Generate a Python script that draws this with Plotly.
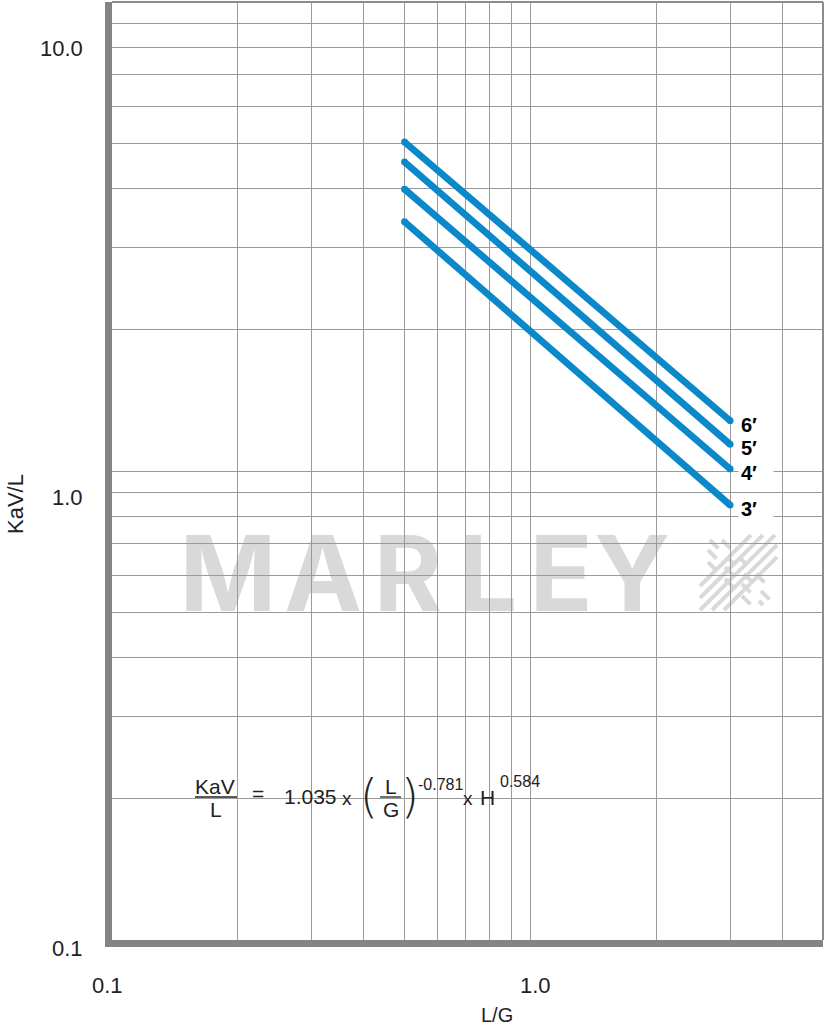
import plotly.graph_objects as go
import math

# ---------------- data ----------------
lg_values = [0.5, 3.0]                      # L/G at both ends of each line
heights = ["6′", "5′", "4′", "3′"]          # fill heights
kavl_6 = [5.03, 1.28]
kavl_5 = [4.56, 1.14]
kavl_4 = [3.99, 1.01]
kavl_3 = [3.40, 0.846]
series = [kavl_6, kavl_5, kavl_4, kavl_3]

x_grid = [0.2, 0.3, 0.4, 0.5, 0.6, 0.7, 0.8, 0.9, 1, 2, 3, 4]
y_grid = [0.2, 0.3, 0.4, 0.5, 0.6, 0.7, 0.8, 0.9, 1, 2, 3, 4, 5, 6, 7, 8, 9]
x_tick_vals = [0.1, 1.0]
x_tick_text = ["0.1", "1.0"]
y_tick_vals = [0.1, 1.0, 10.0]
y_tick_text = ["0.1", "1.0", "10.0"]
y_tick_shift = [-8, -26, -46]               # label offsets as printed in the original
x_range = [0.1, 5.0]
y_range = [0.1, 10.0]

# ---------------- layout geometry ----------------
W, H = 825, 1029
ML, MR, MT, MB = 112, 2, 2, 89
PW, PH = W - ML - MR, H - MT - MB


def P(px, py):
    """page pixel -> paper coords"""
    return (px - ML) / PW, (H - MB - py) / PH


BLUE = "#0a88ca"
GRID = "#9a9a9a"
AXIS = "#838486"
TXT = "#222222"
WM = "#d9d9d9"
FONT = "Liberation Sans"

fig = go.Figure()
for h, ys in zip(heights, series):
    fig.add_trace(go.Scatter(
        x=lg_values, y=ys, mode="lines+markers",
        line=dict(color=BLUE, width=6.8),
        marker=dict(color=BLUE, size=6.8, line=dict(width=0)),
        showlegend=False, hoverinfo="skip", name=h))

annotations = []
# height labels at line ends
for h, ys in zip(heights, series):
    annotations.append(dict(
        x=math.log10(lg_values[-1]), y=math.log10(ys[-1]), xref="x", yref="y",
        text="<b>%s</b>" % h, showarrow=False, xanchor="left", yanchor="middle",
        xshift=8, yshift=-4, align="left", width=30, bgcolor="white",
        borderpad=2, font=dict(family=FONT, size=20, color="black")))

# tick labels
for v, t, s in zip(y_tick_vals, y_tick_text, y_tick_shift):
    annotations.append(dict(
        x=0, xref="paper", y=math.log10(v), yref="y", text=t, showarrow=False,
        xanchor="right", yanchor="middle", xshift=-27, yshift=s,
        font=dict(family=FONT, size=22, color=TXT)))
for v, t, s in zip(x_tick_vals, x_tick_text, [-5, 5]):
    annotations.append(dict(
        x=math.log10(v), xref="x", y=0, yref="paper", text=t, showarrow=False,
        xanchor="center", yanchor="middle", xshift=s, yshift=-45,
        font=dict(family=FONT, size=22, color=TXT)))

# axis titles
px_, py_ = P(497, 1015)
annotations.append(dict(x=px_, y=py_, xref="paper", yref="paper", text="L/G",
                        xanchor="center", yanchor="middle",
                        showarrow=False, font=dict(family=FONT, size=20, color=TXT)))
px_, py_ = P(15, 504)
annotations.append(dict(x=px_, y=py_, xref="paper", yref="paper", text="KaV/L",
                        xanchor="center", yanchor="middle",
                        textangle=-90, showarrow=False,
                        font=dict(family=FONT, size=22, color=TXT)))

# formula
def txt(s, px, py, size=21, family=FONT, weight=None):
    ax, ay = P(px, py)
    f = dict(family=family, size=size, color=TXT)
    if weight is not None:
        f["weight"] = weight
    annotations.append(dict(x=ax, y=ay, xref="paper", yref="paper", text=s,
                            showarrow=False, xanchor="center", yanchor="middle",
                            font=f))

txt("KaV", 215, 786)
txt("L", 216, 809)
txt("=", 258, 793)
txt("1.035", 310, 796)
txt("x", 347, 798, size=19)
txt("(", 369, 796, size=46, family="DejaVu Sans", weight=200)
txt("L", 391, 786)
txt("G", 391, 809)
txt(")", 410, 796, size=46, family="DejaVu Sans", weight=200)
txt("-0.781", 440, 784, size=16)
txt("x", 468, 798, size=19)
txt("H", 487, 797)
txt("0.584", 520, 781, size=16)

shapes = []
# formula background
x0, y0 = P(173, 823)
x1, y1 = P(567, 745)
shapes.append(dict(type="rect", xref="paper", yref="paper", x0=x0, y0=y0, x1=x1, y1=y1,
                   line=dict(width=0), fillcolor="rgba(255,255,255,0.8)", layer="between"))
for a, b in [(195, 237), (380, 401)]:
    xa, yb = P(a, 797)
    xb, _ = P(b, 797)
    shapes.append(dict(type="line", xref="paper", yref="paper", x0=xa, x1=xb, y0=yb, y1=yb,
                       line=dict(color=TXT, width=1.3), layer="above"))

# darker unit grid lines
shapes.append(dict(type="line", xref="x", yref="paper", x0=0, x1=0, y0=0, y1=1,
                   line=dict(color="#8a8a8a", width=2), layer="between"))
shapes.append(dict(type="line", xref="paper", yref="y", x0=0, x1=1, y0=0, y1=0,
                   line=dict(color="#8a8a8a", width=2), layer="between"))
# thin top and right frame
shapes.append(dict(type="line", xref="paper", yref="paper", x0=0, x1=1, y0=1, y1=1,
                   line=dict(color="#8c8c8c", width=2), layer="above"))
shapes.append(dict(type="line", xref="paper", yref="paper", x0=1, x1=1, y0=0, y1=1,
                   line=dict(color="#8c8c8c", width=2), layer="above"))

# MARLEY watermark (below grid)
letters = ["M", "A", "R", "L", "E", "Y"]
centers = [228, 323, 408, 488, 561, 632]
for ch, cx in zip(letters, centers):
    xa, ya = P(cx - 50, 613)
    xb, yb = P(cx + 50, 526)
    shapes.append(dict(type="rect", xref="paper", yref="paper", x0=xa, x1=xb, y0=ya, y1=yb,
                       line=dict(width=0), fillcolor="rgba(0,0,0,0)", layer="below",
                       label=dict(text="<b>%s</b>" % ch, textposition="middle center",
                                  font=dict(family="Inter", size=104, color=WM))))

# logo hatch
for c in [1286, 1298, 1310, 1322, 1334]:
    xs = max(700, c - 610)
    xe = min(777, c - 535)
    if xe <= xs:
        continue
    xa, ya = P(xs, c - xs)
    xb, yb = P(xe, c - xe)
    shapes.append(dict(type="line", xref="paper", yref="paper", x0=xa, y0=ya, x1=xb, y1=yb,
                       line=dict(color=WM, width=4), layer="below"))
for d in [-182, -170, -158, -146]:
    xs = max(708, 540 - d)
    xe = min(772, 605 - d)
    if xe <= xs:
        continue
    xa, ya = P(xs, xs + d)
    xb, yb = P(xe, xe + d)
    shapes.append(dict(type="line", xref="paper", yref="paper", x0=xa, y0=ya, x1=xb, y1=yb,
                       line=dict(color=WM, width=4, dash="dash"), layer="below"))

fig.update_layout(
    width=W, height=H, autosize=False,
    margin=dict(l=ML, r=MR, t=MT, b=MB, pad=0),
    paper_bgcolor="white", plot_bgcolor="white",
    showlegend=False,
    annotations=annotations, shapes=shapes,
    font=dict(family=FONT, color=TXT),
)
fig.update_xaxes(type="log", range=[math.log10(x_range[0]), math.log10(x_range[1])],
                 tickvals=x_grid, showticklabels=False, ticks="",
                 showgrid=True, gridcolor=GRID, gridwidth=1,
                 showline=True, linecolor=AXIS, linewidth=7, mirror=False,
                 zeroline=False, fixedrange=True)
fig.update_yaxes(type="log", range=[math.log10(y_range[0]), math.log10(y_range[1])],
                 tickvals=y_grid, showticklabels=False, ticks="",
                 showgrid=True, gridcolor=GRID, gridwidth=1,
                 showline=True, linecolor=AXIS, linewidth=7, mirror=False,
                 zeroline=False, fixedrange=True)

fig.write_html("out.html", config={"displayModeBar": False},
               post_script="document.body.style.margin='0';document.body.style.overflow='hidden';")
